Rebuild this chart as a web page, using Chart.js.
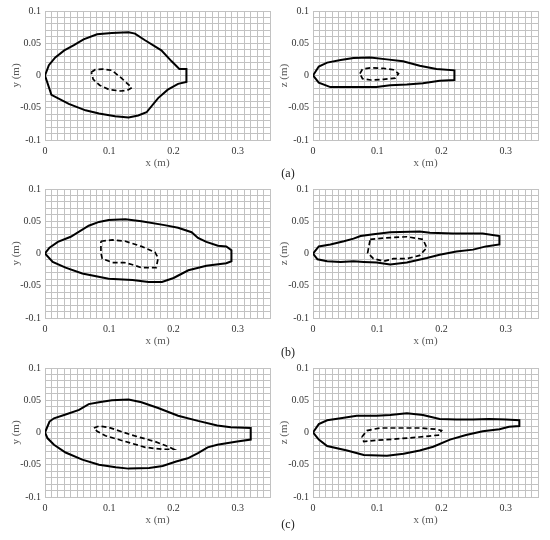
<!DOCTYPE html>
<html>
<head>
<meta charset="utf-8">
<script src="https://cdn.jsdelivr.net/npm/chart.js@4.4.0/dist/chart.umd.min.js"></script>
<style>
  body { margin: 0; background: #fff; width: 550px; height: 540px; position: relative; overflow: hidden; font-family: 'Liberation Serif', 'Times New Roman', serif; }
  canvas { position: absolute; }
  .tag { position: absolute; font-size: 12px; color: #222; transform: translate(-50%, -50%); }
</style>
</head>
<body>
<canvas id="a-top" width="275" height="179" style="left:0px;top:0px"></canvas>
<canvas id="a-side" width="275" height="179" style="left:268px;top:0px"></canvas>
<canvas id="b-top" width="275" height="179" style="left:0px;top:178px"></canvas>
<canvas id="b-side" width="275" height="179" style="left:268px;top:178px"></canvas>
<canvas id="c-top" width="275" height="179" style="left:0px;top:357px"></canvas>
<canvas id="c-side" width="275" height="179" style="left:268px;top:357px"></canvas>
<div class="tag" style="left:288px;top:173px">(a)</div>
<div class="tag" style="left:288px;top:352px">(b)</div>
<div class="tag" style="left:288px;top:524px">(c)</div>
<script>
// tick labels that get printed (grid lines run every 0.01)
const xTickVals = [0, 0.1, 0.2, 0.3];
const yTickVals = [-0.1, -0.05, 0, 0.05, 0.1];

// (a) contours, [x, y] in metres
const aOuter = [[0,0],[0.006,0.016],[0.016,0.028],[0.030,0.039],[0.045,0.047],[0.060,0.056],[0.081,0.064],[0.104,0.066],[0.130,0.067],[0.140,0.065],[0.155,0.055],[0.181,0.039],[0.197,0.022],[0.209,0.010],[0.220,0.010],[0.220,-0.010],[0.207,-0.013],[0.191,-0.022],[0.176,-0.035],[0.158,-0.057],[0.145,-0.062],[0.130,-0.065],[0.109,-0.063],[0.084,-0.059],[0.063,-0.054],[0.037,-0.044],[0.010,-0.030],[0,0]];
const aInner = [[0.072,0.005],[0.078,0.009],[0.090,0.010],[0.104,0.008],[0.119,-0.004],[0.135,-0.019],[0.128,-0.023],[0.118,-0.024],[0.100,-0.022],[0.085,-0.015],[0.075,-0.006],[0.072,0.005]];
const aSideOuter = [[0,0],[0.009,0.014],[0.022,0.020],[0.043,0.024],[0.063,0.027],[0.089,0.028],[0.115,0.025],[0.140,0.022],[0.166,0.015],[0.192,0.010],[0.220,0.008],[0.220,-0.007],[0.197,-0.008],[0.171,-0.012],[0.146,-0.014],[0.120,-0.015],[0.099,-0.018],[0.079,-0.018],[0.053,-0.018],[0.027,-0.018],[0.009,-0.011],[0,0]];
const aSideInner = [[0.073,0.003],[0.077,0.010],[0.090,0.012],[0.110,0.011],[0.125,0.009],[0.133,0.003],[0.128,-0.004],[0.110,-0.006],[0.090,-0.007],[0.077,-0.005],[0.073,0.003]];

// (b)
const bOuter = [[0,0],[0.007,0.009],[0.020,0.018],[0.040,0.026],[0.068,0.043],[0.084,0.049],[0.099,0.052],[0.125,0.053],[0.150,0.050],[0.186,0.044],[0.207,0.040],[0.228,0.033],[0.238,0.024],[0.251,0.018],[0.269,0.012],[0.282,0.011],[0.290,0.005],[0.290,-0.012],[0.282,-0.015],[0.251,-0.019],[0.223,-0.026],[0.200,-0.038],[0.182,-0.044],[0.161,-0.044],[0.136,-0.041],[0.099,-0.039],[0.058,-0.031],[0.032,-0.022],[0.012,-0.013],[0,0]];
const bInner = [[0.087,0.019],[0.105,0.021],[0.125,0.019],[0.150,0.011],[0.171,0.002],[0.176,-0.007],[0.173,-0.022],[0.150,-0.022],[0.135,-0.017],[0.123,-0.014],[0.105,-0.014],[0.089,-0.008],[0.087,0.001],[0.087,0.019]];
const bSideOuter = [[0,0],[0.009,0.011],[0.027,0.014],[0.048,0.019],[0.063,0.023],[0.074,0.027],[0.094,0.030],[0.120,0.033],[0.166,0.034],[0.182,0.032],[0.218,0.031],[0.264,0.031],[0.290,0.027],[0.290,0.014],[0.269,0.011],[0.249,0.006],[0.223,0.003],[0.197,-0.002],[0.177,-0.007],[0.146,-0.014],[0.120,-0.017],[0.099,-0.014],[0.079,-0.013],[0.063,-0.012],[0.043,-0.013],[0.022,-0.012],[0.007,-0.009],[0,0]];
const bSideInner = [[0.089,0.022],[0.110,0.024],[0.146,0.026],[0.171,0.022],[0.177,0.009],[0.166,-0.003],[0.146,-0.008],[0.125,-0.008],[0.110,-0.012],[0.094,-0.008],[0.085,0.001],[0.089,0.022]];

// (c)
const cOuter = [[0,0],[0.007,0.017],[0.014,0.022],[0.032,0.028],[0.053,0.035],[0.068,0.044],[0.084,0.047],[0.104,0.050],[0.130,0.051],[0.150,0.047],[0.176,0.038],[0.207,0.026],[0.238,0.018],[0.268,0.011],[0.289,0.008],[0.320,0.007],[0.320,-0.011],[0.299,-0.014],[0.268,-0.019],[0.253,-0.023],[0.238,-0.032],[0.222,-0.040],[0.204,-0.045],[0.183,-0.052],[0.162,-0.055],[0.130,-0.056],[0.110,-0.054],[0.084,-0.050],[0.058,-0.042],[0.032,-0.031],[0.014,-0.019],[0.004,-0.009],[0,0]];
const cInner = [[0.076,0.007],[0.084,0.010],[0.099,0.008],[0.135,-0.004],[0.171,-0.014],[0.192,-0.022],[0.200,-0.026],[0.182,-0.026],[0.156,-0.023],[0.125,-0.014],[0.094,-0.005],[0.081,0.002],[0.076,0.007]];
const cSideOuter = [[0,0],[0.009,0.013],[0.022,0.019],[0.043,0.022],[0.068,0.026],[0.099,0.026],[0.120,0.027],[0.146,0.030],[0.171,0.027],[0.197,0.021],[0.223,0.020],[0.249,0.020],[0.274,0.021],[0.300,0.020],[0.321,0.019],[0.321,0.010],[0.305,0.009],[0.290,0.005],[0.264,0.002],[0.238,-0.004],[0.213,-0.011],[0.187,-0.022],[0.166,-0.028],[0.141,-0.033],[0.115,-0.036],[0.079,-0.035],[0.053,-0.028],[0.022,-0.021],[0.009,-0.011],[0,0]];
const cSideInner = [[0.076,-0.007],[0.084,0.003],[0.104,0.007],[0.135,0.007],[0.166,0.007],[0.192,0.005],[0.200,0.003],[0.195,-0.004],[0.166,-0.007],[0.130,-0.010],[0.099,-0.012],[0.079,-0.014],[0.076,-0.007]];

const FONT = 'Liberation Serif';
const GRID = '#c2c2c2';

const toPts = arr => arr.map(p => ({ x: p[0], y: p[1] }));

function tickLabel(v, wanted) {
    const r = Math.round(v * 100) / 100;
    return wanted.includes(r) ? String(r) : '';
}

function makePanel(id, outer, inner, yTitle) {
    new Chart(document.getElementById(id), {
        type: 'scatter',
        data: {
            datasets: [
                { data: toPts(outer), borderColor: '#000', borderWidth: 2, showLine: true, pointRadius: 0, tension: 0 },
                { data: toPts(inner), borderColor: '#000', borderWidth: 1.7, borderDash: [5, 3], showLine: true, pointRadius: 0, tension: 0 }
            ]
        },
        options: {
            responsive: false,
            animation: false,
            layout: { padding: { top: 11, right: 2, left: 0, bottom: 0 } },
            plugins: { legend: { display: false }, tooltip: { enabled: false } },
            scales: {
                x: {
                    type: 'linear', min: 0, max: 0.35,
                    afterFit: s => { s.height = 39; },
                    ticks: { stepSize: 0.01, autoSkip: false, maxRotation: 0, padding: 5, color: '#333',
                             font: { family: FONT, size: 10 }, callback: v => tickLabel(v, xTickVals) },
                    grid: { color: GRID, drawTicks: false },
                    border: { color: GRID },
                    title: { display: true, text: 'x (m)', color: '#595959', font: { family: FONT, size: 11 }, padding: { top: 0, bottom: 9 } }
                },
                y: {
                    type: 'linear', min: -0.1, max: 0.1,
                    afterFit: s => { s.width = 45; },
                    ticks: { stepSize: 0.01, autoSkip: false, padding: 4, color: '#333',
                             font: { family: FONT, size: 10 }, callback: v => tickLabel(v, yTickVals) },
                    grid: { color: GRID, drawTicks: false },
                    border: { color: GRID },
                    title: { display: true, text: yTitle, color: '#595959', font: { family: FONT, size: 11 }, padding: { top: 10, bottom: 0 } }
                }
            }
        }
    });
}

makePanel('a-top', aOuter, aInner, 'y (m)');
makePanel('a-side', aSideOuter, aSideInner, 'z (m)');
makePanel('b-top', bOuter, bInner, 'y (m)');
makePanel('b-side', bSideOuter, bSideInner, 'z (m)');
makePanel('c-top', cOuter, cInner, 'y (m)');
makePanel('c-side', cSideOuter, cSideInner, 'z (m)');
</script>
</body>
</html>
